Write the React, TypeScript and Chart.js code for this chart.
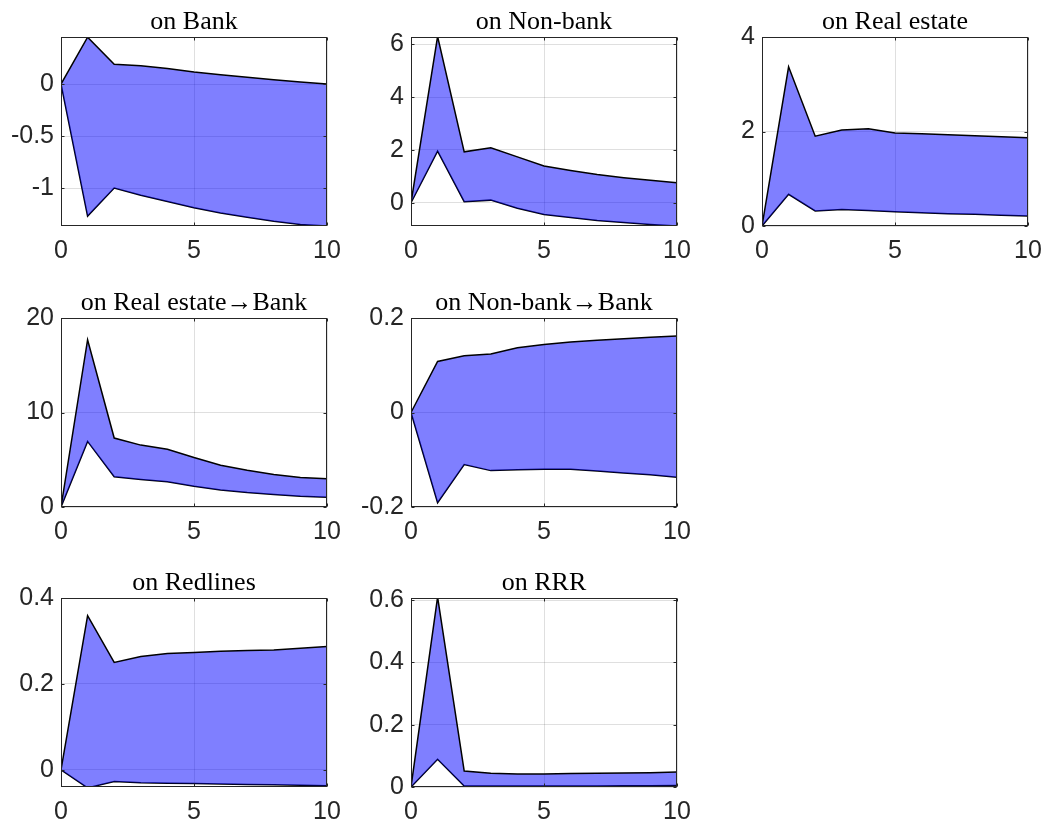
import React, { useEffect, useRef } from 'react';
import { Chart, registerables } from 'chart.js';

Chart.register(...registerables);

// ---- data ----
const horizon = [0, 1, 2, 3, 4, 5, 6, 7, 8, 9, 10];
const xTicks = [0, 5, 10];

const bankUpper = [0, 0.45, 0.19, 0.176, 0.15, 0.115, 0.09, 0.065, 0.04, 0.02, 0];
const bankLower = [0, -1.27, -1.0, -1.07, -1.13, -1.19, -1.24, -1.28, -1.32, -1.35, -1.365];
const bankTicks = [-1, -0.5, 0];

const nonBankUpper = [0, 6.3, 1.93, 2.08, 1.74, 1.39, 1.22, 1.07, 0.95, 0.85, 0.76];
const nonBankLower = [0, 1.96, 0.04, 0.1, -0.21, -0.44, -0.56, -0.67, -0.75, -0.82, -0.88];
const nonBankTicks = [0, 2, 4, 6];

const realEstateUpper = [0, 3.37, 1.9, 2.03, 2.06, 1.97, 1.95, 1.93, 1.91, 1.89, 1.87];
const realEstateLower = [0, 0.67, 0.32, 0.35, 0.33, 0.3, 0.28, 0.26, 0.25, 0.23, 0.21];
const realEstateTicks = [0, 2, 4];

const reBankUpper = [0, 17.7, 7.3, 6.55, 6.12, 5.23, 4.41, 3.88, 3.45, 3.13, 2.99];
const reBankLower = [0, 6.94, 3.2, 2.92, 2.67, 2.2, 1.81, 1.53, 1.32, 1.14, 1.03];
const reBankTicks = [0, 10, 20];

const nbBankUpper = [0, 0.108, 0.12, 0.124, 0.137, 0.144, 0.149, 0.153, 0.156, 0.159, 0.162];
const nbBankLower = [0, -0.191, -0.11, -0.123, -0.121, -0.12, -0.12, -0.124, -0.128, -0.132, -0.137];
const nbBankTicks = [-0.2, 0, 0.2];

const redlinesUpper = [0, 0.359, 0.25, 0.264, 0.271, 0.273, 0.276, 0.278, 0.279, 0.283, 0.287];
const redlinesLower = [0, -0.042, -0.027, -0.03, -0.031, -0.032, -0.033, -0.034, -0.035, -0.036, -0.037];
const redlinesTicks = [0, 0.2, 0.4];

const rrrUpper = [0, 0.61, 0.051, 0.044, 0.042, 0.042, 0.043, 0.044, 0.045, 0.046, 0.048];
const rrrLower = [0, 0.089, 0.003, 0.003, 0.003, 0.003, 0.003, 0.003, 0.004, 0.004, 0.005];
const rrrTicks = [0, 0.2, 0.4, 0.6];

// ---- layout ----
const PLOT_W = 266;
const PLOT_H = 189;
const AXIS_W = 60;
const AXIS_H = 44;
const TITLE_H = 29;
const RIGHT_PAD = 30;
const COLS = [61, 411, 762];
const ROWS = [37, 318, 598];

const SANS = "'Liberation Sans', Arial, Helvetica, sans-serif";
const SERIF = "'Liberation Serif', 'Times New Roman', serif";
const AXIS_COLOR = '#262626';
const GRID_COLOR = 'rgba(38,38,38,0.15)';
const FILL_COLOR = 'rgba(0,0,255,0.5)';

type PanelCfg = {
  title: string;
  upper: number[];
  lower: number[];
  yMin: number;
  yMax: number;
  yTicks: number[];
  col: number;
  row: number;
};

const panels: PanelCfg[] = [
  { title: 'on Bank', upper: bankUpper, lower: bankLower, yMin: -1.365, yMax: 0.452, yTicks: bankTicks, col: 0, row: 0 },
  { title: 'on Non-bank', upper: nonBankUpper, lower: nonBankLower, yMin: -0.88, yMax: 6.28, yTicks: nonBankTicks, col: 1, row: 0 },
  { title: 'on Real estate', upper: realEstateUpper, lower: realEstateLower, yMin: 0, yMax: 4, yTicks: realEstateTicks, col: 2, row: 0 },
  { title: 'on Real estate\u2192Bank', upper: reBankUpper, lower: reBankLower, yMin: 0, yMax: 20, yTicks: reBankTicks, col: 0, row: 1 },
  { title: 'on Non-bank\u2192Bank', upper: nbBankUpper, lower: nbBankLower, yMin: -0.2, yMax: 0.2, yTicks: nbBankTicks, col: 1, row: 1 },
  { title: 'on Redlines', upper: redlinesUpper, lower: redlinesLower, yMin: -0.04, yMax: 0.4, yTicks: redlinesTicks, col: 0, row: 2 },
  { title: 'on RRR', upper: rrrUpper, lower: rrrLower, yMin: 0, yMax: 0.607, yTicks: rrrTicks, col: 1, row: 2 },
];

const boxPlugin = {
  id: 'matlabBox',
  afterDatasetsDraw(chart: any) {
    const { ctx, chartArea } = chart;
    const l = Math.round(chartArea.left) + 0.5;
    const r = Math.round(chartArea.right) - 0.5;
    const t = Math.round(chartArea.top) + 0.5;
    const b = Math.round(chartArea.bottom) - 0.5;
    ctx.save();
    ctx.strokeStyle = AXIS_COLOR;
    ctx.lineWidth = 1;
    ctx.strokeRect(l, t, r - l, b - t);
    const len = 3;
    ctx.beginPath();
    const xs = chart.scales.x;
    xs.ticks.forEach((tk: any) => {
      const px = Math.round(xs.getPixelForValue(tk.value)) + 0.5;
      ctx.moveTo(px, b);
      ctx.lineTo(px, b - len);
      ctx.moveTo(px, t);
      ctx.lineTo(px, t + len);
    });
    const ys = chart.scales.y;
    ys.ticks.forEach((tk: any) => {
      const py = Math.round(ys.getPixelForValue(tk.value)) + 0.5;
      ctx.moveTo(l, py);
      ctx.lineTo(l + len, py);
      ctx.moveTo(r, py);
      ctx.lineTo(r - len, py);
    });
    ctx.stroke();
    ctx.restore();
  },
};

function Panel({ cfg }: { cfg: PanelCfg }) {
  const ref = useRef<HTMLCanvasElement | null>(null);
  const width = AXIS_W + PLOT_W + RIGHT_PAD;
  const height = TITLE_H + PLOT_H + AXIS_H;
  const left = COLS[cfg.col] - AXIS_W;
  const top = ROWS[cfg.row] - TITLE_H;

  useEffect(() => {
    if (!ref.current) return;
    const chart = new Chart(ref.current, {
      type: 'line',
      data: {
        datasets: [
          {
            data: horizon.map((h, i) => ({ x: h, y: cfg.upper[i] })),
            borderColor: '#000',
            borderWidth: 1.5,
            backgroundColor: FILL_COLOR,
            fill: '+1',
            pointRadius: 0,
            tension: 0,
          },
          {
            data: horizon.map((h, i) => ({ x: h, y: cfg.lower[i] })),
            borderColor: '#000',
            borderWidth: 1.5,
            fill: false,
            pointRadius: 0,
            tension: 0,
          },
        ],
      },
      options: {
        animation: false,
        responsive: false,
        events: [],
        layout: { padding: { top: 0, left: 0, right: RIGHT_PAD, bottom: 0 } },
        plugins: {
          legend: { display: false },
          tooltip: { enabled: false },
          title: {
            display: true,
            text: cfg.title,
            fullSize: false,
            color: '#000',
            font: { family: SERIF, size: 26, weight: 'normal', lineHeight: '28px' },
            padding: { top: 0, bottom: 1 },
          },
        },
        scales: {
          x: {
            type: 'linear',
            min: 0,
            max: 10,
            afterBuildTicks: (s: any) => {
              s.ticks = xTicks.map((v) => ({ value: v }));
            },
            afterFit: (s: any) => {
              s.height = AXIS_H;
            },
            grid: { color: GRID_COLOR, drawTicks: false, lineWidth: 1 },
            border: { display: false },
            ticks: {
              padding: 10,
              color: AXIS_COLOR,
              maxRotation: 0,
              autoSkip: false,
              font: { family: SANS, size: 25 },
              callback: (v: any) => String(v),
            },
          },
          y: {
            type: 'linear',
            min: cfg.yMin,
            max: cfg.yMax,
            afterBuildTicks: (s: any) => {
              s.ticks = cfg.yTicks.map((v) => ({ value: v }));
            },
            afterFit: (s: any) => {
              s.width = AXIS_W;
            },
            grid: { color: GRID_COLOR, drawTicks: false, lineWidth: 1 },
            border: { display: false },
            ticks: {
              padding: 7,
              color: AXIS_COLOR,
              autoSkip: false,
              font: { family: SANS, size: 25 },
              callback: (v: any) => String(v),
            },
          },
        },
      } as any,
      plugins: [boxPlugin],
    });
    return () => chart.destroy();
  }, [cfg]);

  return (
    <canvas
      ref={ref}
      width={width}
      height={height}
      style={{ position: 'absolute', left, top, width, height }}
    />
  );
}

export default function App() {
  return (
    <div
      style={{
        position: 'absolute',
        left: 0,
        top: 0,
        width: 1047,
        height: 827,
        background: '#fff',
        overflow: 'hidden',
      }}
    >
      {panels.map((p) => (
        <Panel key={p.title} cfg={p} />
      ))}
    </div>
  );
}
